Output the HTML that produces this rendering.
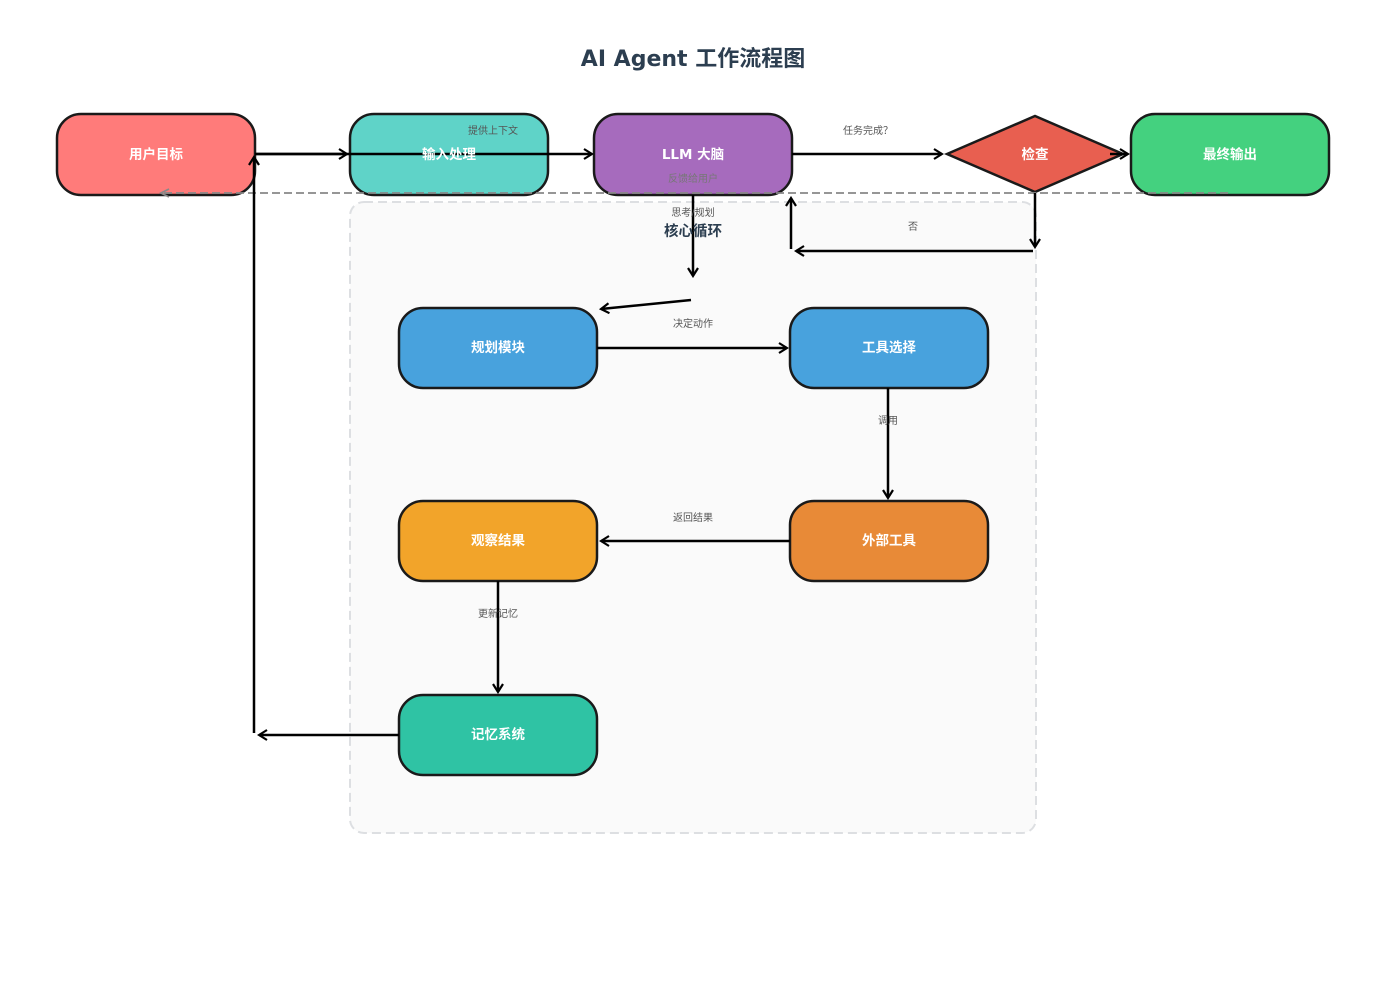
<!DOCTYPE html>
<html><head><meta charset="utf-8"><style>
html,body{margin:0;padding:0;background:#fff;}
svg text{font-family:"DejaVu Sans","Liberation Sans","Noto Sans CJK SC",sans-serif;}
</style></head><body>
<svg width="1387" height="987" viewBox="0 0 1387 987" xmlns="http://www.w3.org/2000/svg">
<defs>
<marker id="a" markerWidth="12" markerHeight="12" refX="10" refY="6" orient="auto" markerUnits="userSpaceOnUse">
<path d="M2,1 L10,6 L2,11" fill="none" stroke="#000" stroke-width="2.2"/></marker>
<marker id="g" markerWidth="12" markerHeight="12" refX="10" refY="6" orient="auto" markerUnits="userSpaceOnUse">
<path d="M2,2 L10,6 L2,10" fill="none" stroke="#888" stroke-width="1.8"/></marker>
</defs>
<text x="693" y="66" text-anchor="middle" font-size="22" font-weight="bold" fill="#2c3e50">AI Agent 工作流程图</text>
<rect x="350" y="202" width="686" height="631" rx="14" fill="#fafafa" stroke="#dddfe2" stroke-width="2" stroke-dasharray="9,5"/>
<g stroke="#1a1a1a" stroke-width="2.5">
<rect x="57" y="114" width="198" height="81" rx="24" fill="#ff7b7a"/>
<rect x="350" y="114" width="198" height="81" rx="24" fill="#5fd3c8"/>
<rect x="594" y="114" width="198" height="81" rx="24" fill="#a66bbd"/>
<polygon points="947,154 1035,116 1123,154 1035,192" fill="#e85f50"/>
<rect x="1131" y="114" width="198" height="81" rx="24" fill="#44d17f"/>
<rect x="399" y="308" width="198" height="80" rx="24" fill="#48a2dd"/>
<rect x="790" y="308" width="198" height="80" rx="24" fill="#48a2dd"/>
<rect x="790" y="501" width="198" height="80" rx="24" fill="#e88a37"/>
<rect x="399" y="501" width="198" height="80" rx="24" fill="#f2a42a"/>
<rect x="399" y="695" width="198" height="80" rx="24" fill="#2fc3a4"/>
</g>
<line x1="1228" y1="193" x2="161" y2="193" stroke="#888" stroke-width="1.8" stroke-dasharray="8,4" marker-end="url(#g)"/>
<g stroke="#000" stroke-width="2.5" fill="none" marker-end="url(#a)">
<line x1="255" y1="154" x2="347" y2="154"/>
<line x1="255" y1="154" x2="592" y2="154"/>
<line x1="792" y1="154" x2="942" y2="154"/>
<line x1="1110" y1="154" x2="1128" y2="154"/>
<line x1="693" y1="195" x2="693" y2="276"/>
<line x1="691" y1="300" x2="601" y2="309"/>
<line x1="597" y1="348" x2="787" y2="348"/>
<line x1="888" y1="388" x2="888" y2="498"/>
<line x1="790" y1="541" x2="601" y2="541"/>
<line x1="498" y1="581" x2="498" y2="692"/>
<line x1="399" y1="735" x2="259" y2="735"/>
<line x1="254" y1="733" x2="254" y2="157"/>
<line x1="1035" y1="193" x2="1035" y2="247"/>
<line x1="1033" y1="251" x2="796" y2="251"/>
<line x1="791" y1="249" x2="791" y2="198"/>
</g>
<g fill="#fff" font-size="13.5" font-weight="bold" text-anchor="middle">
<text x="156" y="159">用户目标</text>
<text x="449" y="159">输入处理</text>
<text x="693" y="159">LLM 大脑</text>
<text x="1035" y="159">检查</text>
<text x="1230" y="159">最终输出</text>
<text x="498" y="352">规划模块</text>
<text x="889" y="352">工具选择</text>
<text x="889" y="545">外部工具</text>
<text x="498" y="545">观察结果</text>
<text x="498" y="739">记忆系统</text>
</g>
<g fill="#555" font-size="10" text-anchor="middle">
<text x="493" y="134">提供上下文</text>
<text x="693" y="182" fill="#777">反馈给用户</text>
<text x="693" y="216">思考/规划</text>
<text x="868" y="134">任务完成？</text>
<text x="913" y="230">否</text>
<text x="693" y="327">决定动作</text>
<text x="888" y="424">调用</text>
<text x="693" y="521">返回结果</text>
<text x="498" y="617">更新记忆</text>
</g>
<text x="693" y="236" text-anchor="middle" font-size="14.5" font-weight="bold" fill="#2c3e50">核心循环</text>
</svg>
</body></html>
